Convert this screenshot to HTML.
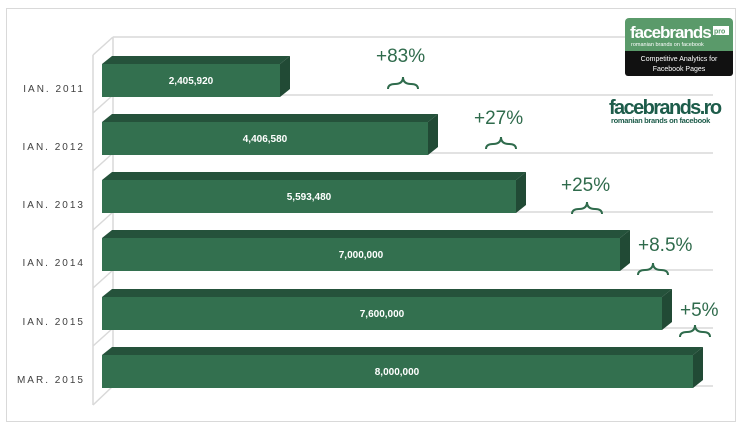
<!DOCTYPE html>
<html><head><style>
body{margin:0;background:#fff;}
svg{display:block;font-family:"Liberation Sans",sans-serif;}
</style></head><body>
<svg width="746" height="428" viewBox="0 0 746 428">
<rect x="6.5" y="8.5" width="729" height="413" fill="#fff" stroke="#d9d9d9"/>
<g stroke="#d9d9d9" stroke-width="1.5" fill="none">
<line x1="113" y1="37" x2="713" y2="37"/>
<line x1="113" y1="95" x2="713" y2="95"/>
<line x1="113" y1="153" x2="713" y2="153"/>
<line x1="113" y1="212" x2="713" y2="212"/>
<line x1="113" y1="270" x2="713" y2="270"/>
<line x1="113" y1="328" x2="713" y2="328"/>
<line x1="113" y1="386" x2="713" y2="386"/>
<line x1="113" y1="37" x2="113" y2="386"/>
<line x1="93" y1="55" x2="93" y2="405"/>
<line x1="93" y1="55" x2="113" y2="37"/>
<line x1="93" y1="113" x2="113" y2="95"/>
<line x1="93" y1="171" x2="113" y2="153"/>
<line x1="93" y1="230" x2="113" y2="212"/>
<line x1="93" y1="288" x2="113" y2="270"/>
<line x1="93" y1="346" x2="113" y2="328"/>
<line x1="93" y1="405" x2="113" y2="386"/>
</g>
<g>
<polygon points="102,64 112,56 290,56 280,64" fill="#25523b"/><polygon points="280,64 290,56 290,89 280,97" fill="#214a35"/><rect x="102" y="64" width="178" height="33" fill="#33704f"/>
<polygon points="102,122 112,114 438,114 428,122" fill="#25523b"/><polygon points="428,122 438,114 438,147 428,155" fill="#214a35"/><rect x="102" y="122" width="326" height="33" fill="#33704f"/>
<polygon points="102,180 112,172 526,172 516,180" fill="#25523b"/><polygon points="516,180 526,172 526,205 516,213" fill="#214a35"/><rect x="102" y="180" width="414" height="33" fill="#33704f"/>
<polygon points="102,238 112,230 630,230 620,238" fill="#25523b"/><polygon points="620,238 630,230 630,263 620,271" fill="#214a35"/><rect x="102" y="238" width="518" height="33" fill="#33704f"/>
<polygon points="102,297 112,289 672,289 662,297" fill="#25523b"/><polygon points="662,297 672,289 672,322 662,330" fill="#214a35"/><rect x="102" y="297" width="560" height="33" fill="#33704f"/>
<polygon points="102,355 112,347 703,347 693,355" fill="#25523b"/><polygon points="693,355 703,347 703,380 693,388" fill="#214a35"/><rect x="102" y="355" width="591" height="33" fill="#33704f"/>
</g>
<g fill="#fff" font-size="10" font-weight="bold" text-anchor="middle">
<text x="191" y="84">2,405,920</text>
<text x="265" y="142">4,406,580</text>
<text x="309" y="200">5,593,480</text>
<text x="361" y="258">7,000,000</text>
<text x="382" y="317">7,600,000</text>
<text x="397" y="375">8,000,000</text>
</g>
<g fill="#404040" font-size="10" text-anchor="end" letter-spacing="2">
<text x="85" y="92">IAN. 2011</text>
<text x="85" y="150">IAN. 2012</text>
<text x="85" y="208">IAN. 2013</text>
<text x="85" y="266">IAN. 2014</text>
<text x="85" y="325">IAN. 2015</text>
<text x="85" y="383">MAR. 2015</text>
</g>
<g fill="#2f6b4c" font-size="19">
<text x="376" y="62">+83%</text>
<text x="474" y="124">+27%</text>
<text x="561" y="191">+25%</text>
<text x="638" y="251">+8.5%</text>
<text x="680" y="316">+5%</text>
</g>
<g fill="none" stroke="#2f6b4c" stroke-width="2">
<path d="M388,89 q0,-5 7,-5 q8,0 8,-7 q0,7 8,7 q7,0 7,5"/>
<path d="M486,149 q0,-5 7,-5 q8,0 8,-7 q0,7 8,7 q7,0 7,5"/>
<path d="M572,214 q0,-5 7,-5 q8,0 8,-7 q0,7 8,7 q7,0 7,5"/>
<path d="M638,275 q0,-5 7,-5 q8,0 8,-7 q0,7 8,7 q7,0 7,5"/>
<path d="M680,337 q0,-5 7,-5 q8,0 8,-7 q0,7 8,7 q7,0 7,5"/>
</g>
<rect x="625" y="18" width="108" height="33" rx="4" fill="#5a9a6a"/>
<rect x="625" y="48" width="108" height="28" rx="3" fill="#111"/>
<rect x="625" y="45" width="108" height="6" fill="#5a9a6a"/>
<text x="630" y="38" fill="#fff" font-size="17" font-weight="bold" letter-spacing="-1">facebrands</text>
<rect x="713" y="26" width="16" height="9" fill="#fff"/><text x="714" y="33.5" fill="#5a9a6a" font-size="7" font-weight="bold">pro</text>
<text x="631" y="46" fill="#fff" font-size="5.5">romanian brands on facebook</text>
<text x="679" y="61" fill="#fff" font-size="7" text-anchor="middle">Competitive Analytics for</text>
<text x="679" y="71" fill="#fff" font-size="7" text-anchor="middle">Facebook Pages</text>
<text x="609" y="114" fill="#1d5c4a" font-size="20" font-weight="bold" letter-spacing="-1.6">facebrands.ro</text>
<text x="611" y="123" fill="#1d5c4a" font-size="7.5" font-weight="bold" letter-spacing="-0.3">romanian brands on facebook</text>
</svg>
</body></html>
